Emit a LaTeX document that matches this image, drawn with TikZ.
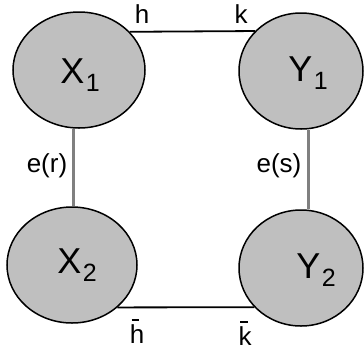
\documentclass[tikz,border=0pt]{standalone}
\usepackage{fontspec}
\setmainfont{Liberation Sans}
\usetikzlibrary{shapes.geometric}
\newcommand{\stembar}[1]{\leavevmode\rlap{\hspace{0.07em}\raisebox{0.86em}{\rule{0.28em}{0.07em}}}#1}
\newcommand{\sublab}[2]{#1\kern0.04em\raisebox{-0.22em}{\fontsize{25}{25}\selectfont #2}}
\begin{document}
\begin{tikzpicture}[x=1pt,y=-1pt,
  blob/.style={ellipse, draw=black, line width=1.5pt, fill=black!25, inner sep=0pt},
  bigtxt/.style={font=\fontsize{36}{36}\selectfont, inner sep=0pt},
  smalltxt/.style={font=\fontsize{26}{26}\selectfont, inner sep=0pt},
  link/.style={black, line width=1.8pt},
  edgeline/.style={black!50, line width=3pt}]
\useasboundingbox (0,0) rectangle (364,349);
% ellipses
\node[blob, minimum width=132pt, minimum height=116pt] (X1) at (79,70) {};
\node[blob, minimum width=124pt, minimum height=116pt] (Y1) at (301,71) {};
\node[blob, minimum width=130pt, minimum height=116pt] (X2) at (72,265) {};
\node[blob, minimum width=124pt, minimum height=116pt] (Y2) at (301,268) {};
% texts inside
\node[bigtxt] (X1t) at (80,75) {\sublab{X}{1}};
\node[bigtxt] (Y1t) at (308,73) {\sublab{Y}{1}};
\node[bigtxt] (X2t) at (77,265) {\sublab{X}{2}};
\node[bigtxt] (Y2t) at (316,270) {\sublab{Y}{2}};
% connectors
\draw[link] (X1.37.3) -- (Y1.139.7);
\draw[link] (X2.-43.2) -- (Y2.220.4);
\draw[edgeline] ([xshift=1.5pt]X2.north) -- ([xshift=1.5pt]X2.north |- X1.south);
\draw[edgeline] ([xshift=7pt]Y2.north) -- ([xshift=7pt]Y1.south);
% labels
\node[smalltxt] (h) at (142,14) {h};
\node[smalltxt] (k) at (241,14) {k};
\node[smalltxt] (hb) at (137,331) {\stembar{h}};
\node[smalltxt] (kb) at (245,333) {\stembar{k}};
\node[smalltxt] (er) at (47,166) {e(r)};
\node[smalltxt] (es) at (279,166) {e(s)};
\end{tikzpicture}
\end{document}
